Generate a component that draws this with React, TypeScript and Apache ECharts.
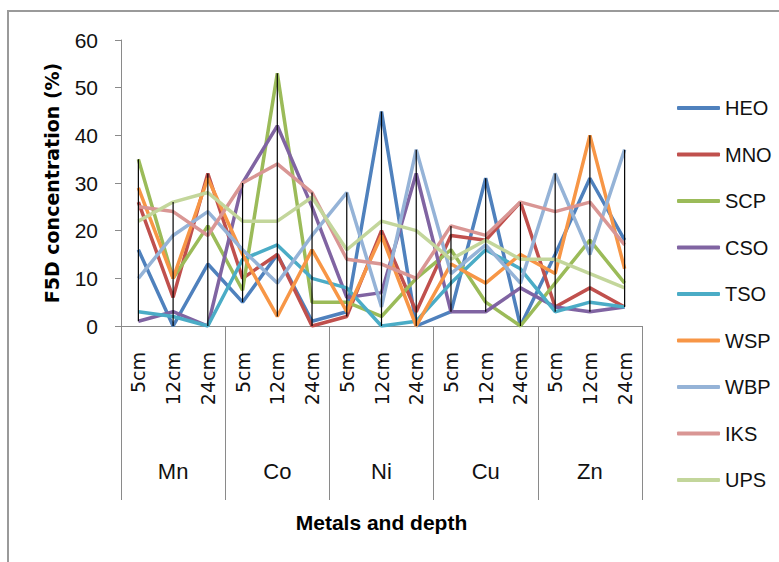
import React, { useEffect, useRef } from 'react';
import * as echarts from 'echarts';

const metals = ['Mn', 'Co', 'Ni', 'Cu', 'Zn'];
const depths = ['5cm', '12cm', '24cm'];
const categories = metals.flatMap(() => depths);

const seriesNames = ['HEO', 'MNO', 'SCP', 'CSO', 'TSO', 'WSP', 'WBP', 'IKS', 'UPS'];
const seriesColors = ['#4F81BD', '#C0504D', '#9BBB59', '#8064A2', '#4BACC6', '#F79646', '#95B3D7', '#D99694', '#C3D69B'];

const HEO = [16, 0, 13, 5, 15, 1, 3, 45, 0, 3, 31, 0, 15, 31, 18];
const MNO = [26, 6, 32, 10, 15, 0, 2, 20, 3, 19, 18, 26, 4, 8, 4];
const SCP = [35, 10, 21, 7.5, 53, 5, 5, 2, 10, 16, 5, 0, 9, 18, 9];
const CSO = [1, 3, 0, 30, 42, 25, 6, 7, 32, 3, 3, 8, 4, 3, 4];
const TSO = [3, 2, 0, 14, 17, 10, 8, 0, 1, 9, 16, 12, 3, 5, 4];
const WSP = [29, 10, 31, 15, 2, 16, 3, 19, 0, 13, 9, 15, 11, 40, 12];
const WBP = [10, 19, 24, 16, 9, 19, 28, 4, 37, 11, 17, 9, 32, 15, 37];
const IKS = [25, 24, 19, 30, 34, 28, 14, 13, 10, 21, 19, 26, 24, 26, 17];
const UPS = [22, 26, 28, 22, 22, 27, 16, 22, 20, 14, 18, 14, 14, 11, 8];

const seriesValues = [HEO, MNO, SCP, CSO, TSO, WSP, WBP, IKS, UPS];

const yTicks = { min: 0, max: 60, interval: 10 };

const NARROW = "'Liberation Sans Narrow', 'Liberation Sans', Arial, sans-serif";

export default function App() {
  const ref = useRef<HTMLDivElement>(null);
  useEffect(() => {
    if (!ref.current) return;
    const chart = echarts.init(ref.current, null, { renderer: 'svg' });

    const hiLo = categories.map((_, i) => {
      const vals = seriesValues.map((s) => s[i]);
      return [i, Math.min(...vals), Math.max(...vals)];
    });

    const lineSeries = seriesNames.map((name, k) => ({
      name,
      type: 'line',
      data: seriesValues[k],
      xAxisIndex: 0,
      yAxisIndex: 0,
      symbol: 'none',
      lineStyle: { width: 3.5, color: seriesColors[k] },
      itemStyle: { color: seriesColors[k] },
      z: 2,
    }));

    const option: any = {
      animation: false,
      backgroundColor: '#ffffff',
      grid: { left: 121, top: 40, width: 521, height: 286, containLabel: false },
      legend: {
        data: seriesNames,
        orient: 'vertical',
        left: 672,
        top: 93,
        icon: 'roundRect',
        itemWidth: 43,
        itemHeight: 4,
        itemGap: 26.5,
        textStyle: { fontFamily: NARROW, fontSize: 20, color: '#111', lineHeight: 20 },
      },
      xAxis: [
        {
          type: 'category',
          data: categories,
          position: 'bottom',
          boundaryGap: true,
          axisLine: { show: true, lineStyle: { color: '#8a8a8a', width: 1 } },
          axisTick: { show: false },
          axisLabel: {
            interval: 0,
            rotate: 90,
            margin: 26,
            fontFamily: "'DejaVu Sans', sans-serif",
            fontSize: 19,
            color: '#111',
          },
          splitLine: { show: false },
        },
        {
          type: 'category',
          data: metals,
          position: 'bottom',
          boundaryGap: true,
          axisLine: { show: false },
          axisTick: { show: true, length: 174, interval: 0, lineStyle: { color: '#8a8a8a', width: 1 } },
          axisLabel: {
            interval: 0,
            margin: 134,
            fontFamily: NARROW,
            fontSize: 22,
            color: '#111',
          },
          splitLine: { show: false },
          name: 'Metals and depth',
          nameLocation: 'middle',
          nameGap: 186,
          nameTextStyle: { fontFamily: NARROW, fontSize: 21, fontWeight: 'bold', color: '#000' },
        },
      ],
      yAxis: {
        type: 'value',
        min: yTicks.min,
        max: yTicks.max,
        interval: yTicks.interval,
        axisLine: { show: true, lineStyle: { color: '#8a8a8a', width: 1 } },
        axisTick: { show: true, length: 6, lineStyle: { color: '#8a8a8a' } },
        axisLabel: { margin: 23, fontFamily: NARROW, fontSize: 21, color: '#111' },
        splitLine: { show: false },
        name: 'F5D concentration (%)',
        nameLocation: 'middle',
        nameRotate: 90,
        nameGap: 60,
        nameTextStyle: { fontFamily: "'DejaVu Sans', sans-serif", fontSize: 19, fontWeight: 'bold', color: '#000' },
      },
      graphic: [
        {
          type: 'rect',
          shape: { x: 8, y: 11, width: 900, height: 900 },
          style: { fill: 'none', stroke: '#9a9a9a', lineWidth: 2 },
          silent: true,
          z: -1,
        },
      ],
      series: [
        ...lineSeries,
        {
          name: 'hilo',
          type: 'custom',
          xAxisIndex: 0,
          yAxisIndex: 0,
          data: hiLo,
          encode: { x: 0, y: [1, 2] },
          z: 5,
          silent: true,
          renderItem: (params: any, api: any) => {
            const x = api.value(0);
            const p1 = api.coord([x, api.value(1)]);
            const p2 = api.coord([x, api.value(2)]);
            return {
              type: 'line',
              shape: { x1: p1[0], y1: p1[1], x2: p2[0], y2: p2[1] },
              style: { stroke: '#000', lineWidth: 1.2 },
            };
          },
        },
      ],
    };
    chart.setOption(option);
    return () => chart.dispose();
  }, []);

  return (
    <div
      ref={ref}
      style={{ position: 'fixed', left: 0, top: 0, width: 779, height: 562, background: '#fff' }}
    />
  );
}
